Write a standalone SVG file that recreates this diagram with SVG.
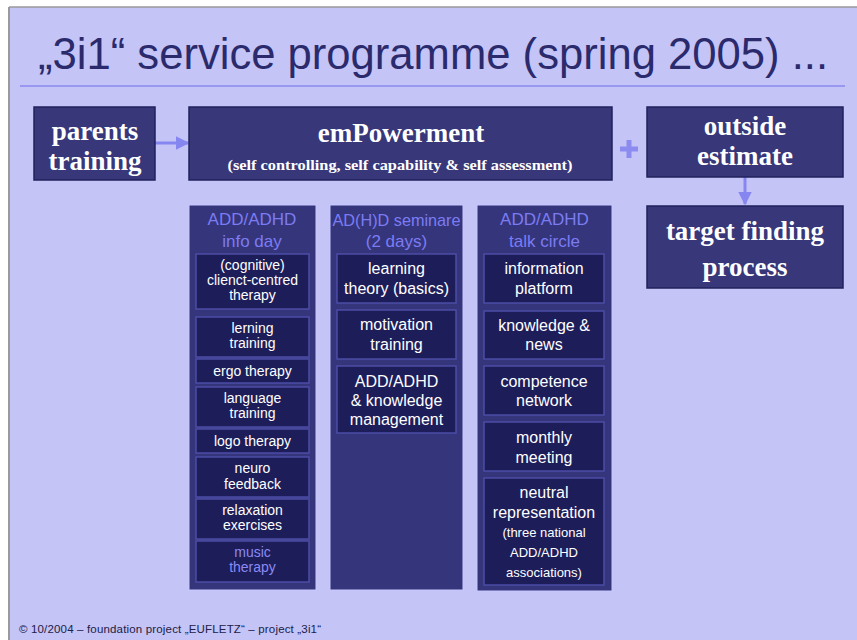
<svg xmlns="http://www.w3.org/2000/svg" width="857" height="640" viewBox="0 0 857 640">
<defs>
<style>
.bg{fill:#c4c4f6}
.box{fill:#37377a;stroke:#22225e;stroke-width:1.5}
.col{fill:#35357c;stroke:#c8c8ff;stroke-width:1}
.inner{fill:#1d1d5a;stroke:#4c4ca6;stroke-width:1.5}
.big{font-family:"Liberation Serif",serif;font-weight:bold;font-size:27px;fill:#ffffff;text-anchor:middle}
.sub{font-family:"Liberation Serif",serif;font-weight:bold;font-size:15px;fill:#ffffff;text-anchor:middle}
.head{font-family:"Liberation Sans",sans-serif;font-size:17px;fill:#7c7cf2;text-anchor:middle}
.t14{font-family:"Liberation Sans",sans-serif;font-size:14px;fill:#ffffff;text-anchor:middle}
.t16{font-family:"Liberation Sans",sans-serif;font-size:16px;fill:#ffffff;text-anchor:middle}
.t13{font-family:"Liberation Sans",sans-serif;font-size:13px;fill:#ffffff;text-anchor:middle}
.conn{stroke:#8686f0;stroke-width:3;fill:none}
</style>
<marker id="ah" viewBox="0 0 10 10" refX="9" refY="5" markerWidth="4.5" markerHeight="4.5" orient="auto" markerUnits="strokeWidth">
<path d="M0,0 L10,5 L0,10 z" fill="#8686f0"/>
</marker>
</defs>
<rect x="0" y="0" width="857" height="640" fill="#ffffff"/>
<rect x="9" y="7" width="848" height="633" class="bg"/>
<line x1="9" y1="7" x2="857" y2="7" stroke="#9a9a9a" stroke-width="1.5"/>
<line x1="9" y1="7" x2="9" y2="640" stroke="#9a9a9a" stroke-width="2"/>

<g id="title">
<text x="38" y="69" font-family="Liberation Sans, sans-serif" font-size="44" fill="#2a2a6c" textLength="790" lengthAdjust="spacingAndGlyphs">„3i1“ service programme (spring 2005) ...</text>
<line x1="20" y1="86" x2="845" y2="86" stroke="#8a8af2" stroke-width="1.5"/>
</g>

<g id="connectors">
<line x1="155" y1="143" x2="188" y2="143" class="conn" marker-end="url(#ah)"/>
<line x1="745" y1="177" x2="745" y2="204" class="conn" marker-end="url(#ah)"/>
<path d="M620,146.5 h18 v5 h-18 z M626.5,140 h5 v18 h-5 z" fill="#8c8cf0"/>
</g>

<g id="parents-training">
<rect x="34" y="107" width="121" height="73" class="box"/>
<text x="95" y="140" class="big">parents</text>
<text x="95" y="170" class="big">training</text>
</g>

<g id="empowerment">
<rect x="189" y="107" width="423" height="73" class="box"/>
<text x="401" y="142" class="big" font-size="28">emPowerment</text>
<text x="400" y="170" class="sub" textLength="345" lengthAdjust="spacingAndGlyphs">(self controlling, self capability &amp; self assessment)</text>
</g>

<g id="outside-estimate">
<rect x="647" y="107" width="196" height="70" class="box"/>
<text x="745" y="135" class="big">outside</text>
<text x="745" y="165" class="big">estimate</text>
</g>

<g id="target-finding">
<rect x="647" y="206" width="196" height="82" class="box"/>
<text x="745" y="240" class="big" font-size="28">target finding</text>
<text x="745" y="276" class="big" font-size="28">process</text>
</g>

<g id="col-info-day">
<rect x="189" y="205" width="127" height="385" class="col"/>
<text x="252" y="225" class="head">ADD/ADHD</text>
<text x="252" y="247" class="head">info day</text>
<rect x="196" y="254" width="113" height="55" class="inner"/>
<text x="252.5" y="270" class="t14">(cognitive)</text>
<text x="252.5" y="285" class="t14">clienct-centred</text>
<text x="252.5" y="300" class="t14">therapy</text>
<rect x="196" y="317" width="113" height="40" class="inner"/>
<text x="252.5" y="333" class="t14">lerning</text>
<text x="252.5" y="348" class="t14">training</text>
<rect x="196" y="359" width="113" height="24" class="inner"/>
<text x="252.5" y="376" class="t14">ergo therapy</text>
<rect x="196" y="387" width="113" height="40" class="inner"/>
<text x="252.5" y="403" class="t14">language</text>
<text x="252.5" y="418" class="t14">training</text>
<rect x="196" y="429" width="113" height="24" class="inner"/>
<text x="252.5" y="446" class="t14">logo therapy</text>
<rect x="196" y="457" width="113" height="40" class="inner"/>
<text x="252.5" y="473" class="t14">neuro</text>
<text x="252.5" y="489" class="t14">feedback</text>
<rect x="196" y="499" width="113" height="40" class="inner"/>
<text x="252.5" y="515" class="t14">relaxation</text>
<text x="252.5" y="530" class="t14">exercises</text>
<rect x="196" y="541" width="113" height="41" class="inner"/>
<text x="252.5" y="557" class="t14" style="fill:#8a8af2">music</text>
<text x="252.5" y="572" class="t14" style="fill:#8a8af2">therapy</text>
</g>

<g id="col-seminare">
<rect x="330" y="205" width="133" height="385" class="col"/>
<text x="396.5" y="226" class="head" textLength="128" lengthAdjust="spacingAndGlyphs">AD(H)D seminare</text>
<text x="396.5" y="247" class="head">(2 days)</text>
<rect x="337" y="254" width="119" height="49" class="inner"/>
<text x="396.5" y="274" class="t16">learning</text>
<text x="396.5" y="294" class="t16">theory (basics)</text>
<rect x="337" y="310" width="119" height="49" class="inner"/>
<text x="396.5" y="330" class="t16">motivation</text>
<text x="396.5" y="350" class="t16">training</text>
<rect x="337" y="366" width="119" height="67" class="inner"/>
<text x="396.5" y="387" class="t16">ADD/ADHD</text>
<text x="396.5" y="406" class="t16">&amp; knowledge</text>
<text x="396.5" y="425" class="t16">management</text>
</g>

<g id="col-talk-circle">
<rect x="477" y="205" width="135" height="386" class="col"/>
<text x="544.5" y="225" class="head">ADD/ADHD</text>
<text x="544.5" y="247" class="head">talk circle</text>
<rect x="484" y="254" width="120" height="49" class="inner"/>
<text x="544" y="274" class="t16">information</text>
<text x="544" y="294" class="t16">platform</text>
<rect x="484" y="311" width="120" height="48" class="inner"/>
<text x="544" y="331" class="t16">knowledge &amp;</text>
<text x="544" y="350" class="t16">news</text>
<rect x="484" y="366" width="120" height="49" class="inner"/>
<text x="544" y="387" class="t16">competence</text>
<text x="544" y="406" class="t16">network</text>
<rect x="484" y="422" width="120" height="49" class="inner"/>
<text x="544" y="443" class="t16">monthly</text>
<text x="544" y="463" class="t16">meeting</text>
<rect x="484" y="478" width="120" height="107" class="inner"/>
<text x="544" y="498" class="t16">neutral</text>
<text x="544" y="518" class="t16">representation</text>
<text x="544" y="537" class="t13">(three national</text>
<text x="544" y="557" class="t13">ADD/ADHD</text>
<text x="544" y="577" class="t13">associations)</text>
</g>

<g id="footer">
<text x="19" y="633" font-family="Liberation Sans, sans-serif" font-size="11.5" fill="#202048" textLength="302" lengthAdjust="spacing">© 10/2004 – foundation project „EUFLETZ“ – project „3i1“</text>
</g>
</svg>
